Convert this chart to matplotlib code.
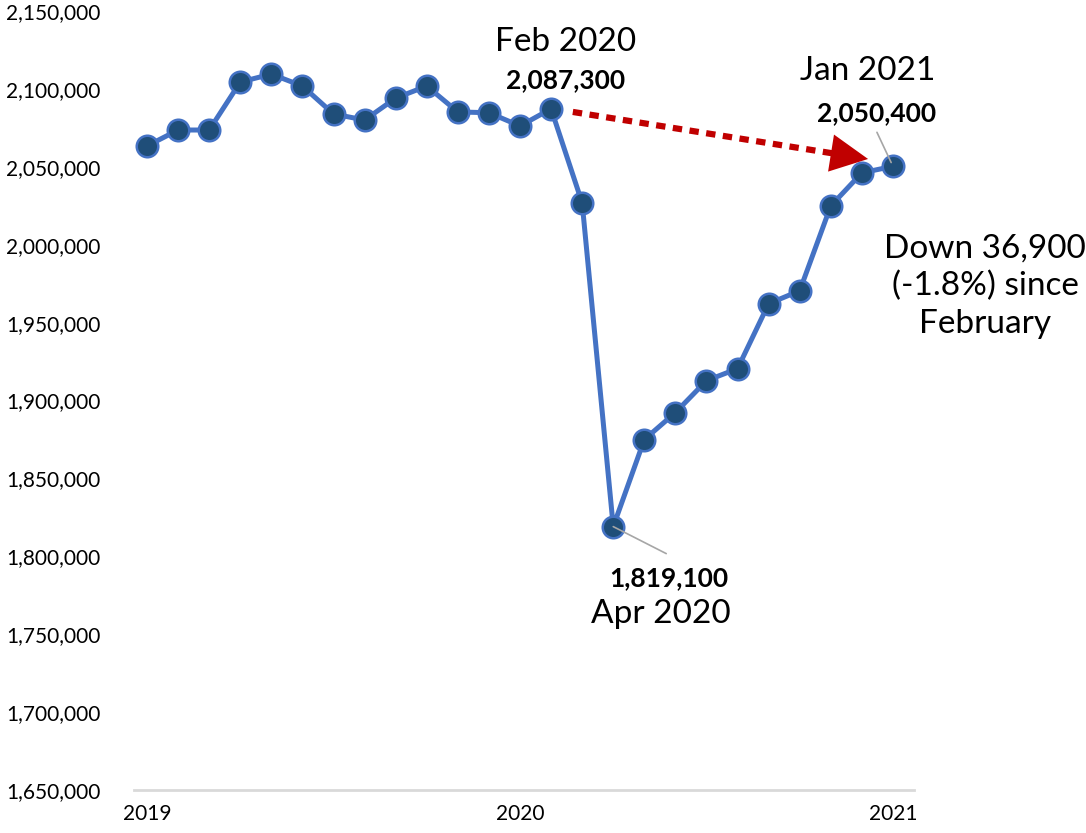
import matplotlib
matplotlib.use("Agg")
import matplotlib.pyplot as plt

plt.rcParams['font.family'] = ['Lato', 'DejaVu Sans']

# empleo mensual, ene 2019 - ene 2021
meses = list(range(25))
valores = [2063500, 2073700, 2073700, 2104500, 2109600, 2101900, 2084000, 2080100,
           2094200, 2101900, 2085300, 2084800, 2076300, 2087300, 2026900, 1819100,
           1875000, 1892300, 1912800, 1920500, 1962200, 1970500, 2025000, 2046200,
           2050400]
ticks_x = [0, 12, 24]
etiquetas_x = ['2019', '2020', '2021']
ticks_y = list(range(1650000, 2150001, 50000))

i_feb, i_abr, i_ene = 13, 15, 24

azul = '#4472C4'
azul_osc = '#1F4E79'
rojo = '#C00000'
gris = '#A6A6A6'

fig = plt.figure(figsize=(10.86, 8.33), dpi=100)
ax = fig.add_axes([0.1234, 0.0516, 0.718, 0.935])

ax.plot(meses, valores, color=azul, lw=3.6, marker='o', markersize=15.5,
        markerfacecolor=azul_osc, markeredgecolor=azul, markeredgewidth=1.8, zorder=3)

ax.set_xlim(-0.42, 24.67)
ax.set_ylim(1650000, 2150000)
ax.set_yticks(ticks_y)
ax.set_yticklabels([f'{v:,}' for v in ticks_y], fontsize=15)
ax.set_xticks(ticks_x)
ax.set_xticklabels(etiquetas_x, fontsize=15)
ax.tick_params(length=0, pad=10)
ax.tick_params(axis='y', pad=24)
for s in ['top', 'right', 'left']:
    ax.spines[s].set_visible(False)
ax.spines['bottom'].set_color('#D9D9D9')
ax.spines['bottom'].set_linewidth(2)

# flecha roja punteada Feb 2020 -> Ene 2021
x0, y0 = meses[i_feb] + 0.7, valores[i_feb] - 2000
x1, y1 = meses[i_ene] - 0.8, valores[i_ene] + 4700
xm = x0 + (x1 - x0) * 0.93
ym = y0 + (y1 - y0) * 0.93
ax.plot([x0, xm], [y0, ym], color=rojo, lw=4.5, dashes=(1.5, 1.2),
        solid_capstyle='butt', dash_capstyle='butt', zorder=2)
ax.annotate('', xy=(x1, y1), xytext=(xm, ym),
            arrowprops=dict(arrowstyle='-|>,head_length=0.9,head_width=0.45',
                            color=rojo, lw=0, mutation_scale=30, shrinkA=0, shrinkB=0))

def etiqueta(i, texto, dx, dy, **kw):
    ax.annotate(texto, xy=(meses[i], valores[i]), xytext=(dx, dy),
                textcoords='offset pixels', ha='center', va='center', **kw)

etiqueta(i_feb, 'Feb 2020', 14, 67, fontsize=24)
etiqueta(i_feb, f'{valores[i_feb]:,}', 14, 29, fontsize=19, fontweight='bold')
etiqueta(i_ene, 'Jan 2021', -25, 95, fontsize=24)
etiqueta(i_ene, f'{valores[i_ene]:,}', -16, 53, fontsize=19, fontweight='bold')
etiqueta(i_abr, f'{valores[i_abr]:,}', 56, -52, fontsize=19, fontweight='bold')
etiqueta(i_abr, 'Apr 2020', 48, -87, fontsize=24)
etiqueta(i_ene, 'Down 36,900\n(-1.8%) since\nFebruary', 92, -120, fontsize=24,
         linespacing=1.3)

# lineas guia grises
ax.annotate('', xy=(meses[i_abr], valores[i_abr]), xytext=(53, -27),
            textcoords='offset pixels',
            arrowprops=dict(arrowstyle='-', color=gris, lw=1.2, shrinkA=0, shrinkB=0))
ax.annotate('', xy=(meses[i_ene], valores[i_ene]), xytext=(-16, 34),
            textcoords='offset pixels',
            arrowprops=dict(arrowstyle='-', color=gris, lw=1.2, shrinkA=0, shrinkB=3))

fig.savefig('out.png', dpi=100)
